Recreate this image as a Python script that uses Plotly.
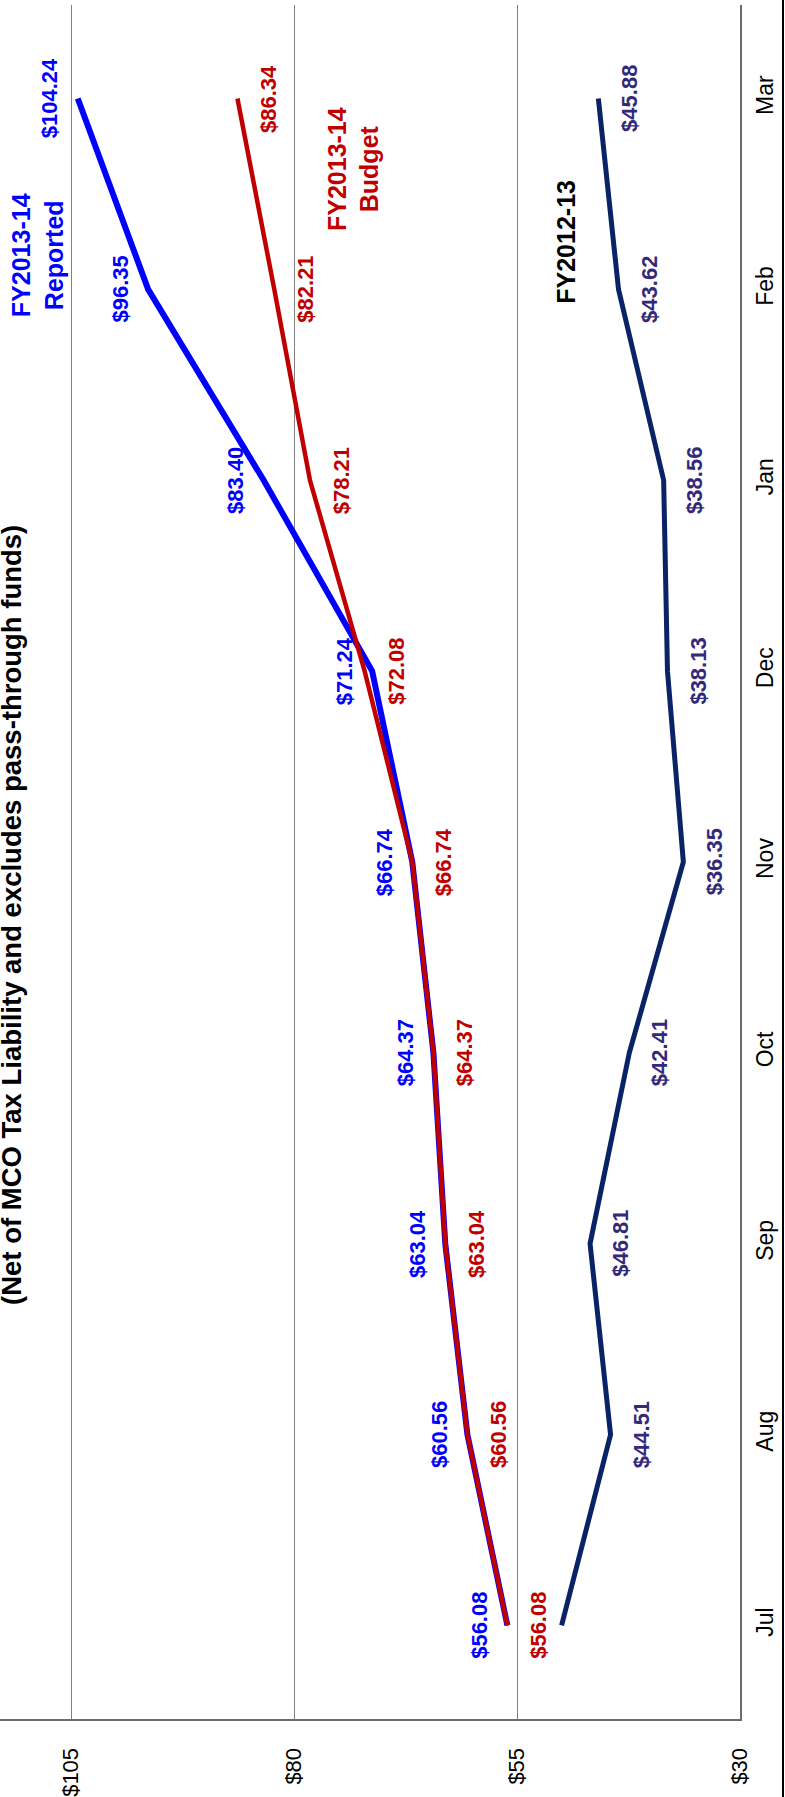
import plotly.graph_objects as go

# Monthly cumulative revenue ($ millions), fiscal months July through March
months = ["Jul", "Aug", "Sep", "Oct", "Nov", "Dec", "Jan", "Feb", "Mar"]
fy1314_reported = [56.08, 60.56, 63.04, 64.37, 66.74, 71.24, 83.40, 96.35, 104.24]
fy1314_budget = [56.08, 60.56, 63.04, 64.37, 66.74, 72.08, 78.21, 82.21, 86.34]
fy1213 = [50.00, 44.51, 46.81, 42.41, 36.35, 38.13, 38.56, 43.62, 45.88]
fy1213_labeled = [False, True, True, True, True, True, True, True, True]

value_ticks = [30, 55, 80, 105]
value_tick_text = ["$30", "$55", "$80", "$105"]

subtitle = "(Net of MCO Tax Liability and excludes pass-through funds)"

BLUE = "#0000FF"
RED = "#C00000"
NAVY = "#0A2366"
NAVY_LABEL = "#33297A"
FONT = "Arial, Liberation Sans, sans-serif"

fig = go.Figure()

# the whole chart is laid out sideways: values run right-to-left, months bottom-to-top
fig.add_trace(go.Scatter(x=fy1213, y=months, mode="lines",
                         line=dict(color=NAVY, width=5), name="FY2012-13"))
fig.add_trace(go.Scatter(x=fy1314_reported, y=months, mode="lines",
                         line=dict(color=BLUE, width=6), name="FY2013-14 Reported"))
fig.add_trace(go.Scatter(x=fy1314_budget, y=months, mode="lines",
                         line=dict(color=RED, width=4.5), name="FY2013-14 Budget"))

annotations = []


def money(v):
    return "${:.2f}".format(v)


for m, v in zip(months, fy1314_reported):
    annotations.append(dict(x=v, y=m, xref="x", yref="y", text=money(v),
                            showarrow=False, textangle=-90, xshift=-28,
                            font=dict(family=FONT, size=22, color=BLUE, weight="bold")))
for m, v in zip(months, fy1314_budget):
    annotations.append(dict(x=v, y=m, xref="x", yref="y", text=money(v),
                            showarrow=False, textangle=-90, xshift=31,
                            font=dict(family=FONT, size=22, color=RED, weight="bold")))
for m, v, lab in zip(months, fy1213, fy1213_labeled):
    if lab:
        annotations.append(dict(x=v, y=m, xref="x", yref="y", text=money(v),
                                showarrow=False, textangle=-90, xshift=31,
                                font=dict(family=FONT, size=22, color=NAVY_LABEL, weight="bold")))

# series names
annotations.append(dict(x=108.8, y=7.18, xref="x", yref="y", text="FY2013-14<br>Reported",
                        showarrow=False, textangle=-90,
                        font=dict(family=FONT, size=25, color=BLUE, weight="bold")))
annotations.append(dict(x=73.4, y=7.63, xref="x", yref="y", text="FY2013-14<br>Budget",
                        showarrow=False, textangle=-90,
                        font=dict(family=FONT, size=25, color=RED, weight="bold")))
annotations.append(dict(x=49.5, y=7.25, xref="x", yref="y", text="FY2012-13",
                        showarrow=False, textangle=-90,
                        font=dict(family=FONT, size=25, color="#000000", weight="bold")))

# subtitle along the left edge
annotations.append(dict(x=0, y=0.4691, xref="paper", yref="paper", text=subtitle,
                        showarrow=False, textangle=-90, xshift=12,
                        xanchor="center", yanchor="middle",
                        font=dict(family=FONT, size=27.5, color="#000000", weight="bold")))

fig.update_layout(
    width=785, height=1797,
    margin=dict(l=0, r=45, t=5, b=75),
    paper_bgcolor="white", plot_bgcolor="white",
    showlegend=False,
    annotations=annotations,
    xaxis=dict(
        range=[112.96, 30],
        tickvals=value_ticks, ticktext=value_tick_text,
        tickangle=-90, ticks="", ticklabelstandoff=18,
        tickfont=dict(family=FONT, size=22, color="#000000"),
        showgrid=True, gridcolor="#808080", gridwidth=1.3,
        showline=True, linecolor="#6b6b6b", linewidth=2.2,
        zeroline=False,
    ),
    yaxis=dict(
        type="category", categoryorder="array", categoryarray=months,
        range=[-0.49, 8.49], side="right",
        tickangle=-90, ticks="", ticklabelstandoff=3,
        tickfont=dict(family=FONT, size=23, color="#000000"),
        showgrid=False,
        showline=True, linecolor="#6b6b6b", linewidth=2.2,
        zeroline=False,
    ),
    shapes=[dict(type="line", xref="paper", yref="paper",
                 x0=1.0581, x1=1.0581, y0=-0.05, y1=1.01,
                 line=dict(color="#000000", width=2))],
)

fig.write_html("out.html")
